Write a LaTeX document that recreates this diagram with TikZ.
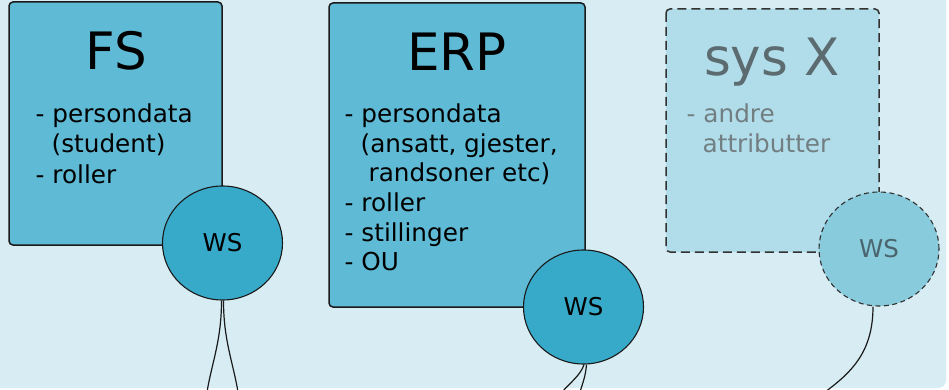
\documentclass[tikz,border=0pt]{standalone}
\usepackage{fontspec}
\setmainfont{DejaVu Sans}
\usetikzlibrary{shapes.geometric}
\definecolor{bgc}{HTML}{D7EDF3}
\definecolor{boxc}{HTML}{5FBAD5}
\definecolor{wsc}{HTML}{37AAC9}
\definecolor{boxx}{HTML}{B0DDE9}
\definecolor{wsx}{HTML}{88CBDD}
\definecolor{edgec}{HTML}{1A1A1A}
\definecolor{greyt}{HTML}{5B6B70}
\definecolor{greyb}{HTML}{727E82}
\definecolor{greyw}{HTML}{4B656E}
\tikzset{
  sysbox/.style={draw=edgec, line width=1.5pt, rounded corners=4pt, fill=boxc},
  sysboxx/.style={draw=edgec!90, line width=1.5pt, rounded corners=4pt, fill=boxx, dash pattern=on 9pt off 5pt},
  wsnode/.style={ellipse, draw=edgec, line width=1.1pt, fill=wsc, minimum width=120pt, minimum height=114pt, inner sep=0pt, font=\fontsize{24.5}{24.5}\selectfont},
  wsnodex/.style={wsnode, fill=wsx, draw=edgec!90, dash pattern=on 5pt off 3.5pt, text=greyw},
  titletxt/.style={anchor=base, inner sep=0pt, font=\fontsize{51.5}{51.5}\selectfont},
  bodytxt/.style={anchor=base west, inner sep=0pt, font=\fontsize{24.7}{24.7}\selectfont},
  wire/.style={draw=edgec, line width=1.2pt}
}
\begin{document}
\begin{tikzpicture}[x=1pt,y=-1pt]
\useasboundingbox (0,0) rectangle (949,390);
\fill[white] (0,0) rectangle (949,390);
\fill[bgc, rounded corners=8pt] (-20,-20) rectangle (946,388);

% FS
\draw[sysbox] (9,2) rectangle (222,245);
\node[titletxt] (fst) at (116,70) {FS};
\node[bodytxt] (fs1) at (35.5,123) {- persondata};
\node[bodytxt] (fs2) at (51.5,153) {(student)};
\node[bodytxt] (fs3) at (35.5,183) {- roller};
\node[wsnode] (wsfs) at (222.5,243) {WS};

% ERP
\draw[sysbox] (329,3) rectangle (585,307);
\node[titletxt] (erpt) at (457,71) {ERP};
\node[bodytxt] (e1) at (344.5,123) {- persondata};
\node[bodytxt] (e2) at (360.5,152.5) {(ansatt, gjester,};
\node[bodytxt] (e3) at (368.5,182) {randsoner etc)};
\node[bodytxt] (e4) at (344.5,211.5) {- roller};
\node[bodytxt] (e5) at (344.5,241) {- stillinger};
\node[bodytxt] (e6) at (344.5,270.5) {- OU};
\node[wsnode] (wserp) at (583.5,307) {WS};

% sys X
\draw[sysboxx] (666,9) rectangle (879,252);
\node[titletxt, text=greyt] (sxt) at (772,76) {sys X};
\node[bodytxt, text=greyb] (x1) at (686.5,123) {- andre};
\node[bodytxt, text=greyb] (x2) at (702.5,153) {attributter};
\node[wsnodex] (wsx) at (879,249) {WS};

% connectors
\coordinate (fsa) at (207,392);
\coordinate (fsb) at (238,392);
\coordinate (erpa) at (562,392);
\coordinate (erpb) at (580,392);
\coordinate (sxa) at (825,392);
\draw[wire] ([xshift=-1pt]wsfs.south) .. controls +(0,40) and (212,362) .. (fsa);
\draw[wire] ([xshift=1pt]wsfs.south) .. controls +(0,40) and (233,362) .. (fsb);
\draw[wire] ([xshift=0.5pt]wserp.south) .. controls +(-3,10) and (570,383) .. (erpa);
\draw[wire] ([xshift=3pt]wserp.south) .. controls +(-1,12) and (583,382) .. (erpb);
\draw[wire] ([xshift=-6pt]wsx.south) .. controls +(0,45) and (852,372) .. (sxa);
\end{tikzpicture}
\end{document}
